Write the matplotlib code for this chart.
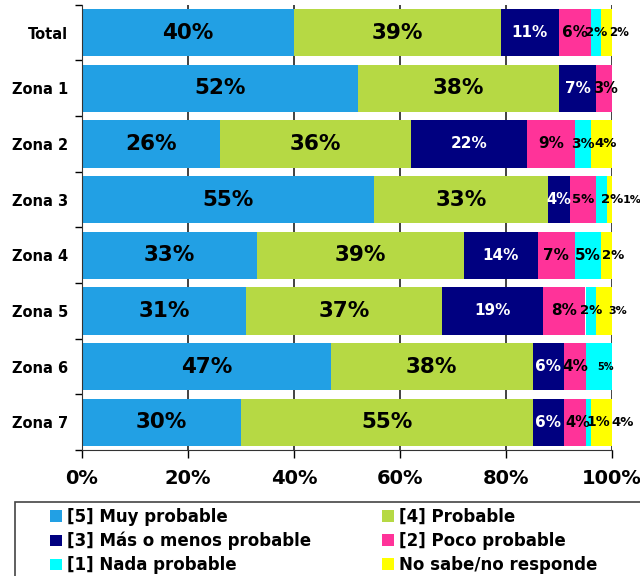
import numpy as np
import matplotlib
matplotlib.use("Agg")
import matplotlib.pyplot as plt
from matplotlib.patches import Rectangle

categories = ["Total", "Zona 1", "Zona 2", "Zona 3", "Zona 4", "Zona 5", "Zona 6", "Zona 7"]
series = ["[5] Muy probable", "[4] Probable", "[3] Más o menos probable",
          "[2] Poco probable", "[1] Nada probable", "No sabe/no responde"]
muy_probable = [40, 52, 26, 55, 33, 31, 47, 30]
probable = [39, 38, 36, 33, 39, 37, 38, 55]
mas_o_menos = [11, 7, 22, 4, 14, 19, 6, 6]
poco_probable = [6, 3, 9, 5, 7, 8, 4, 4]
nada_probable = [2, 0, 3, 2, 5, 2, 5, 1]
no_sabe = [2, 0, 4, 1, 2, 3, 0, 4]
xtick_labels = ["0%", "20%", "40%", "60%", "80%", "100%"]

colors = ["#22A0E4", "#B6D944", "#000080", "#FF3399", "#00FFFF", "#FFFF00"]
text_colors = ["black", "black", "white", "black", "black", "black"]

# small labels that sit off-centre in the original: (row, series) -> (dx, size)
special = {
    (0, 4): (0, 9.5), (0, 5): (2.3, 8.5),
    (1, 3): (0.2, 10.5),
    (2, 4): (0, 10), (2, 5): (0.8, 9.5),
    (3, 2): (0, 10.5), (3, 3): (0, 9.5), (3, 4): (2.0, 9.5), (3, 5): (4.3, 8),
    (4, 5): (1.3, 9.5),
    (5, 4): (0, 9.5), (5, 5): (2.5, 8),
    (6, 4): (1.3, 7),
    (7, 3): (0.6, 10.5), (7, 4): (1.9, 10), (7, 5): (4.0, 9.5),
}

data = np.array([muy_probable, probable, mas_o_menos, poco_probable, nada_probable, no_sabe])

fig = plt.figure(figsize=(6.4, 5.76), dpi=100)
ax = fig.add_axes([82 / 640, 1 - 450 / 576, 530 / 640, 445.3 / 576])

y = np.arange(len(categories))
left = np.zeros(len(categories))
handles = []
for i in range(len(series)):
    h = ax.barh(y, data[i], left=left, height=0.85, color=colors[i], zorder=2, label=series[i])
    handles.append(h)
    for r in range(len(categories)):
        v = data[i][r]
        if v == 0:
            continue
        dx, size = special.get((r, i), (0, None))
        if size is None:
            size = 15.5 if v >= 25 else 11
        ax.text(left[r] + v / 2 + dx, y[r], f"{v}%", ha="center", va="center",
                fontsize=size, fontweight="bold", color=text_colors[i], zorder=3)
    left += data[i]

ax.set_xlim(0, 100)
ax.set_ylim(len(categories) - 0.5, -0.5)
ax.set_xticks(np.arange(0, 101, 20))
ax.set_xticklabels(xtick_labels, fontsize=14, fontweight="bold")
ax.set_yticks(y)
ax.set_yticklabels(categories, fontsize=10.5, fontweight="bold")
ax.set_yticks(np.arange(-0.5, len(categories)), minor=True)
ax.tick_params(axis="y", which="major", length=0, pad=10)
ax.tick_params(axis="y", which="minor", length=5, width=1, direction="out")
ax.tick_params(axis="x", length=6, width=1, direction="out", pad=8)
ax.xaxis.grid(True, color="#222222", linewidth=1.2, zorder=0)
ax.set_axisbelow(True)
for s in ["top", "right"]:
    ax.spines[s].set_visible(False)
ax.spines["left"].set_color("#333333")
ax.spines["bottom"].set_color("#333333")

# legend frame runs off the figure edge
fig.patches.append(Rectangle((15 / 640, -0.1), 1.0, (576 - 502) / 576 + 0.1,
                             transform=fig.transFigure, fill=False,
                             edgecolor="#444444", linewidth=1.2))
order = [0, 2, 4, 1, 3, 5]
fig.legend([handles[k] for k in order], [series[k] for k in order],
           loc="upper left", bbox_to_anchor=(50 / 640, 1 - 508 / 576),
           ncol=2, frameon=False, prop={"weight": "bold", "size": 12},
           handlelength=0.7, handleheight=0.7, handletextpad=0.3,
           labelspacing=0.35, columnspacing=4.3, borderpad=0, borderaxespad=0)

fig.savefig("out.png", dpi=100)
